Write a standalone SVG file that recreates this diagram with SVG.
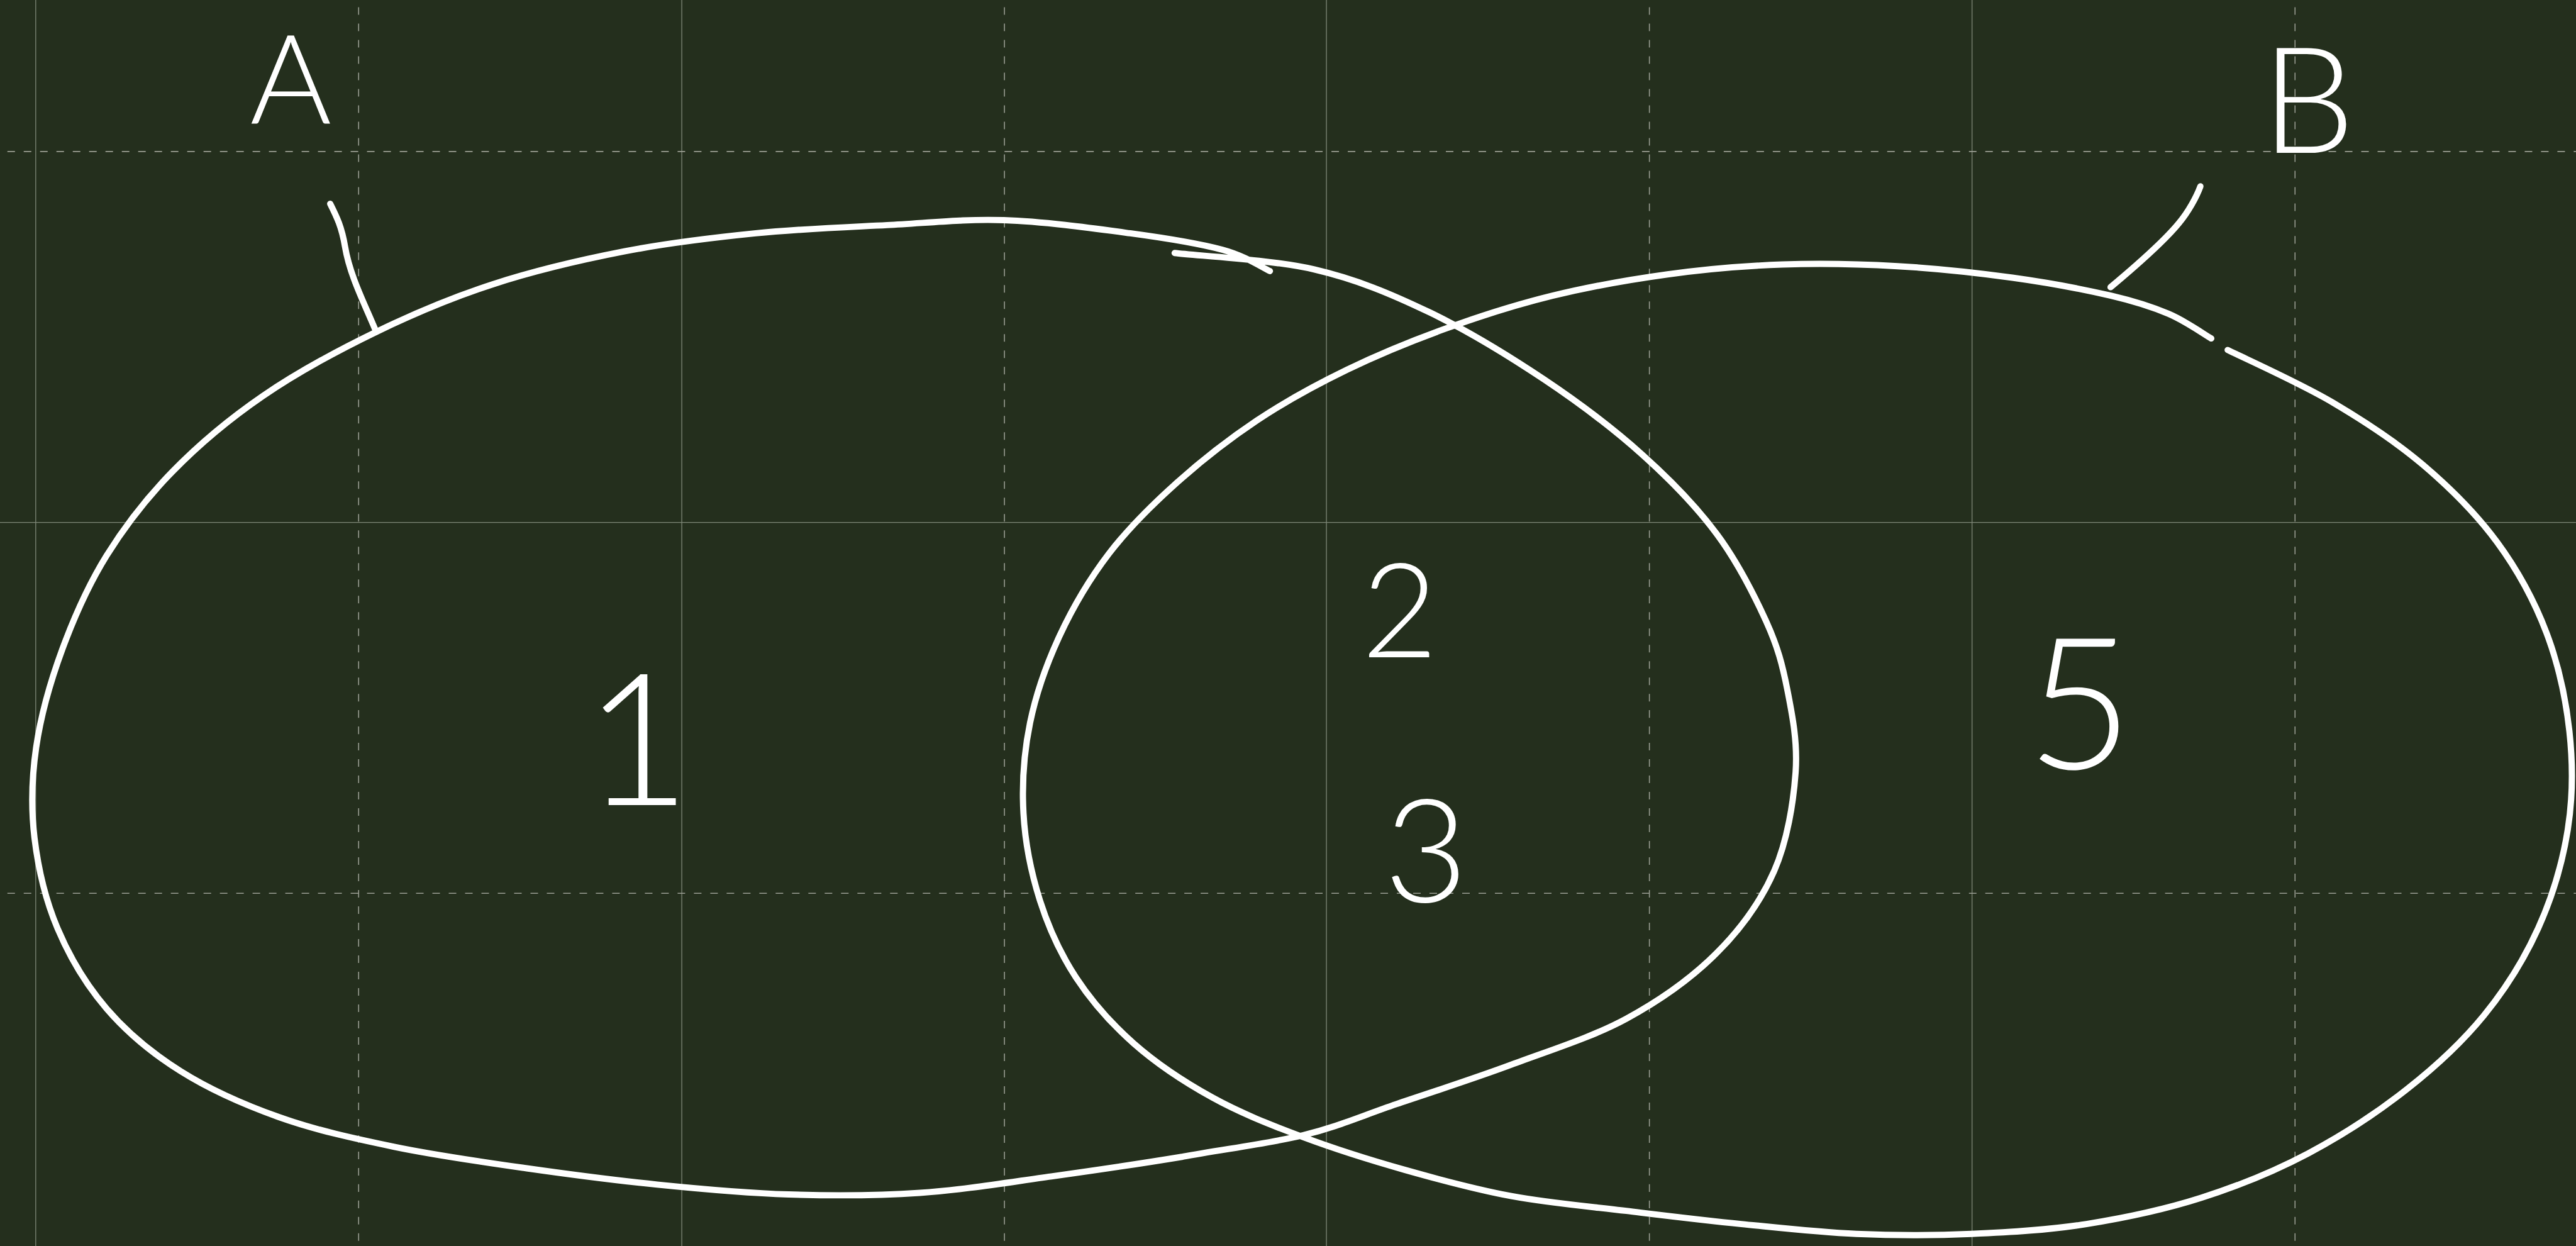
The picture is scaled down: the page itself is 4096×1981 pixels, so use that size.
<svg xmlns="http://www.w3.org/2000/svg" width="4096" height="1981" viewBox="0 0 4096 1981">
<style>
.bg{fill:#242f1d}
.gs{stroke:#7f8878;stroke-width:0.5;fill:none}
.gd{stroke:#9a9e93;stroke-width:0.6;fill:none;stroke-dasharray:4.6 5.35}
.ink{fill:none;stroke:#ffffff;stroke-width:3.8;stroke-linecap:round;stroke-linejoin:round}
.lbl{fill:#ffffff;font-family:Lato,"Liberation Sans",sans-serif;font-weight:300;text-anchor:middle}
</style>
<rect class="bg" x="0" y="0" width="4096" height="1981"/>
<g transform="scale(2.6122)">
<g id="grid">
<path class="gs" d="M21.75 0V759M415 0V759M807.4 0V759M1200.4 0V759M0 318H1568"/>
<path class="gd" d="M218.3 4.4V759M611.4 4.4V759M1004 4.4V759M1397 4.4V759M4.5 92.2H1568M4.5 543.7H1568"/>
</g>
<g id="set-A">
<path class="ink" d="M715 154 C729.2 155.7 774.2 158 800 164 C825.8 170 846.7 178.8 870 190 C893.3 201.2 918.3 216.5 940 231 C961.7 245.5 982.5 261.3 1000 277 C1017.5 292.7 1032.5 308.2 1045 325 C1057.5 341.8 1067.8 362.2 1075 378 C1082.2 393.8 1085 404.7 1088 420 C1091 435.3 1094.3 451.7 1093 470 C1091.7 488.3 1088 511.7 1080 530 C1072 548.3 1060 565 1045 580 C1030 595 1010.8 608.7 990 620 C969.2 631.3 943.3 639.3 920 648 C896.7 656.7 871.2 664.8 850 672 C828.8 679.2 814.7 685.7 793 691 C771.3 696.3 741.7 699.8 720 704 C694.5 708.2 666.7 712.3 640 716 C613.3 719.7 586.7 724.2 560 726 C533.3 727.8 506.7 727.8 480 727 C453.3 726.2 426.7 723.7 400 721 C373.3 718.3 346.7 714.8 320 711 C293.3 707.2 265 703.2 240 698 C215 692.8 191.7 687.7 170 680 C148.3 672.3 127.5 663 110 652 C92.5 641 77.5 628.5 65 614 C52.5 599.5 42.3 582.3 35 565 C27.7 547.7 23.2 528.3 21 510 C18.8 491.7 19.2 474.2 22 455 C24.8 435.8 30.8 414.5 38 395 C45.2 375.5 53.8 356 65 338 C76.2 320 89.2 303.2 105 287 C120.8 270.8 139.3 255.2 160 241 C180.7 226.8 205.7 213.3 229 202 C252.3 190.7 274.8 181.2 300 173 C325.2 164.8 353.3 158.2 380 153 C406.7 147.8 433.3 144.7 460 142 C486.7 139.3 514.8 138.3 540 137 C565.2 135.7 586.3 133.2 611 134 C635.7 134.8 665.8 139 688 142 C710.2 145 729.8 148.2 744 152 C758.2 155.8 768.2 162.8 773 165"/>
<text class="lbl" x="177" y="75" font-size="76">A</text>
</g>
<g id="set-B">
<path class="ink" d="M1356 213 C1366.7 218.3 1400.2 233.3 1420 245 C1439.8 256.7 1458.3 268.8 1475 283 C1491.7 297.2 1507.5 313 1520 330 C1532.5 347 1542.7 365.8 1550 385 C1557.3 404.2 1561.8 425 1564 445 C1566.2 465 1566.2 485 1563 505 C1559.8 525 1553.5 546.2 1545 565 C1536.5 583.8 1525.3 601.7 1512 618 C1498.7 634.3 1482.8 649 1465 663 C1447.2 677 1425.8 691 1405 702 C1384.2 713 1362.5 721.8 1340 729 C1317.5 736.2 1293.3 741.3 1270 745 C1246.7 748.7 1223.3 750 1200 751 C1176.7 752 1153.3 752 1130 751 C1106.7 750 1083.3 747.3 1060 745 C1036.7 742.7 1013.3 739.8 990 737 C966.7 734.2 942.5 732.2 920 728 C897.5 723.8 876.2 718 855 712 C833.8 706 812.5 699.3 793 692 C773.5 684.7 755.2 677.5 738 668 C720.8 658.5 703.8 647.2 690 635 C676.2 622.8 664.5 609.5 655 595 C645.5 580.5 638.3 564.7 633 548 C627.7 531.3 624 513 623 495 C622 477 623.3 458 627 440 C630.7 422 637 404.2 645 387 C653 369.8 663.3 352.3 675 337 C686.7 321.7 700 308.5 715 295 C730 281.5 747.5 267.7 765 256 C782.5 244.3 800.8 234.3 820 225 C839.2 215.7 859.2 207.5 880 200 C900.8 192.5 922.5 185.5 945 180 C967.5 174.5 991.7 170.2 1015 167 C1038.3 163.8 1061.7 161.8 1085 161 C1108.3 160.2 1131.7 160.7 1155 162 C1178.3 163.3 1203.3 166 1225 169 C1246.7 172 1269.2 176.3 1285 180 C1300.8 183.7 1309.8 186.7 1320 191 C1330.2 195.3 1341.7 203.5 1346 206"/>
<text class="lbl" x="1405" y="93" font-size="90">B</text>
</g>
<g id="region-1"><text class="lbl" x="388" y="490" font-size="112">1</text></g>
<g id="region-2"><text class="lbl" x="852" y="400" font-size="80">2</text></g>
<g id="region-3"><text class="lbl" x="868" y="549" font-size="88">3</text></g>
<g id="region-5"><text class="lbl" x="1266" y="468" font-size="112">5</text></g>
<g id="connectors">
<path class="ink" d="M201 124 C205 132 208 138 210 150 C213 168 222 185 229 202"/>
<path class="ink" d="M1339.4 113.4 C1337 120 1332 129 1326.4 135.7 C1318 146 1300 162 1284.7 174.8"/>
</g>
</g>
</svg>
